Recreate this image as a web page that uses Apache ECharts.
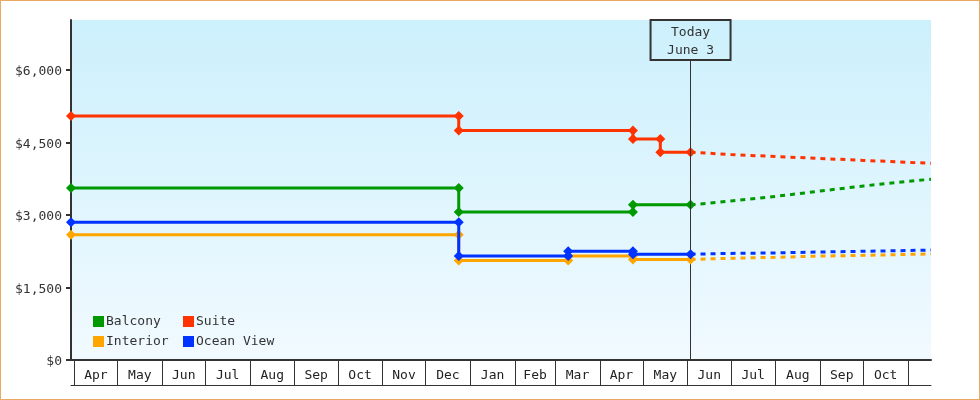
<!DOCTYPE html>
<html><head><meta charset="utf-8">
<script src="https://cdn.jsdelivr.net/npm/echarts@6/dist/echarts.min.js"></script>
<style>
html,body{margin:0;padding:0;background:#fff}
#c{position:absolute;left:0;top:0;width:980px;height:400px}
#b{position:absolute;left:0;top:0;width:980px;height:400px;box-sizing:border-box;border:1px solid #e9a962;pointer-events:none}
</style>
</head><body><div id="c"></div><div id="b"></div>
<script>
// ---- data ----
const seriesNames = ['Balcony', 'Suite', 'Interior', 'Ocean View'];
const seriesColors = ['#009900', '#ff3300', '#ffa500', '#0033ff'];
const axisStart = '2022-03-29 17:00:00';
const axisEnd = '2023-11-17 00:00:00';
const today = '2023-06-03';
const todayLabel = 'Today\nJune 3';
const yTicks = [0, 1500, 3000, 4500, 6000];
const yMax = 7034.5;
const todayLineTop = 6207;
const monthStarts = ['2022-04-01','2022-05-01','2022-06-01','2022-07-01','2022-08-01','2022-09-01','2022-10-01','2022-11-01','2022-12-01','2023-01-01','2023-02-01','2023-03-01','2023-04-01','2023-05-01','2023-06-01','2023-07-01','2023-08-01','2023-09-01','2023-10-01','2023-11-01'];
const monthLabels = ['Apr','May','Jun','Jul','Aug','Sep','Oct','Nov','Dec','Jan','Feb','Mar','Apr','May','Jun','Jul','Aug','Sep','Oct'];

const balconyDates = [axisStart, '2022-12-24', '2022-12-24', '2023-04-24', '2023-04-24', today];
const balconyPrices = [3560, 3560, 3060, 3060, 3210, 3210];
const suiteDates = [axisStart, '2022-12-24', '2022-12-24', '2023-04-24', '2023-04-24', '2023-05-13', '2023-05-13', today];
const suitePrices = [5050, 5050, 4750, 4750, 4570, 4570, 4300, 4300];
const interiorDates = [axisStart, '2022-12-24', '2022-12-24', '2023-03-10', '2023-03-10', '2023-04-24', '2023-04-24', today];
const interiorPrices = [2590, 2590, 2060, 2060, 2150, 2150, 2080, 2080];
const oceanDates = [axisStart, '2022-12-24', '2022-12-24', '2023-03-10', '2023-03-10', '2023-04-24', '2023-04-24', today];
const oceanPrices = [2850, 2850, 2150, 2150, 2250, 2250, 2190, 2190];

const forecastDates = [today, '2023-07-01', '2023-08-01', '2023-09-01', '2023-10-01', '2023-11-01', axisEnd];
const balconyForecast = [3210, 3290, 3385, 3495, 3600, 3695, 3740];
const suiteForecast = [4300, 4250, 4210, 4170, 4130, 4090, 4070];
const interiorForecast = [2080, 2105, 2125, 2150, 2165, 2185, 2195];
const oceanForecast = [2190, 2205, 2215, 2235, 2250, 2265, 2275];

// ---- build ----
const T = s => echarts.time.parse(s).getTime();
const FONT = 'DejaVu Sans Mono';
const tMin = T(axisStart), tMax = T(axisEnd), tToday = T(today);
const starts = monthStarts.map(T);
const mids = monthLabels.map((m, i) => (starts[i] + starts[i + 1]) / 2);
const zip = (d, v) => d.map((x, i) => [T(x), v[i]]);

const actual = [
  [balconyDates, balconyPrices], [suiteDates, suitePrices],
  [interiorDates, interiorPrices], [oceanDates, oceanPrices]
];
const forecast = [balconyForecast, suiteForecast, interiorForecast, oceanForecast];

const series = [];
seriesNames.forEach((name, i) => {
  series.push({
    name, type: 'line', xAxisIndex: 0, data: zip(actual[i][0], actual[i][1]),
    symbol: 'diamond', symbolSize: 10, showSymbol: true, showAllSymbol: true,
    lineStyle: { width: 3, color: seriesColors[i] }, itemStyle: { color: seriesColors[i] },
    z: 3 + i, silent: true
  });
});
seriesNames.forEach((name, i) => {
  series.push({
    name, type: 'line', xAxisIndex: 0, data: zip(forecastDates, forecast[i]),
    symbol: 'none', showSymbol: false,
    lineStyle: { width: 3, color: seriesColors[i], type: [5, 5] }, itemStyle: { color: seriesColors[i] },
    z: 2, silent: true
  });
});
series.push({
  type: 'line', xAxisIndex: 0, data: [], silent: true, z: 1,
  markLine: {
    silent: true, symbol: ['none', 'none'], animation: false,
    lineStyle: { color: '#333', width: 1, type: 'solid' },
    label: {
      show: true, position: 'end', distance: 0, formatter: todayLabel,
      fontFamily: FONT, fontSize: 13, color: '#333', lineHeight: 18,
      width: 80, align: 'center', padding: [4, 0, 0, 0],
      borderColor: '#333', borderWidth: 1, backgroundColor: 'transparent'
    },
    data: [[{ coord: [tToday, 0] }, { coord: [tToday, todayLineTop] }]]
  }
});

const textStyle = { fontFamily: FONT, fontSize: 13, color: '#333', padding: [3, 0, 0, -3] };
const option = {
  animation: false,
  grid: {
    left: 71, right: 49, top: 20, bottom: 40, show: true, borderWidth: 0,
    backgroundColor: new echarts.graphic.LinearGradient(0, 0, 0, 1, [
      { offset: 0, color: '#ccf0fc' }, { offset: 1, color: '#f1faff' }
    ])
  },
  legend: [
    { data: ['Balcony', 'Interior'], orient: 'vertical', left: 93, top: 315, padding: 0,
      itemWidth: 11, itemHeight: 11, itemGap: 7, icon: 'rect', textStyle, selectedMode: false },
    { data: ['Suite', 'Ocean View'], orient: 'vertical', left: 183, top: 315, padding: 0,
      itemWidth: 11, itemHeight: 11, itemGap: 7, icon: 'rect', textStyle, selectedMode: false }
  ],
  xAxis: [
    { type: 'value', min: tMin, max: tMax, position: 'bottom',
      axisLine: { show: true, lineStyle: { color: '#333', width: 2 } },
      axisTick: { show: false }, axisLabel: { show: false }, splitLine: { show: false } },
    { type: 'value', min: tMin, max: tMax, position: 'bottom',
      axisLine: { show: false }, splitLine: { show: false },
      axisTick: { show: true, customValues: starts, length: 25, inside: false, lineStyle: { color: '#333', width: 1 } },
      axisLabel: { show: true, customValues: mids, margin: 7, padding: [2, 0, 0, 0], fontFamily: FONT, fontSize: 13, color: '#222',
        formatter: v => { const i = mids.findIndex(m => Math.abs(m - v) < 86400000); return i >= 0 ? monthLabels[i] : ''; } } },
    { type: 'value', min: tMin, max: tMax, position: 'bottom', offset: 25,
      axisLine: { show: true, lineStyle: { color: '#333', width: 1 } },
      axisTick: { show: false }, axisLabel: { show: false }, splitLine: { show: false } }
  ],
  yAxis: {
    type: 'value', min: 0, max: yMax,
    axisLine: { show: true, lineStyle: { color: '#333', width: 2 } },
    axisTick: { show: true, customValues: yTicks, length: 5, lineStyle: { color: '#333', width: 2 } },
    axisLabel: { customValues: yTicks, margin: 9, fontFamily: FONT, fontSize: 13, color: '#333',
      formatter: v => '{a|$' + v.toLocaleString('en-US') + '}',
      rich: { a: { fontFamily: FONT, fontSize: 13, color: '#333', padding: [4, 0, 0, 0] } } },
    splitLine: { show: false }
  },
  series
};
const chart = echarts.init(document.getElementById('c'), null, { renderer: 'canvas' });
chart.setOption(option);
</script>
</body></html>
